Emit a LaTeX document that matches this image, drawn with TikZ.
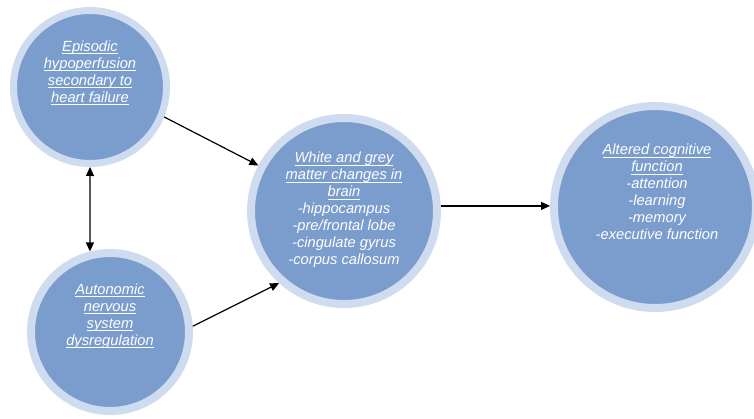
\documentclass[tikz,border=0pt]{standalone}
\usepackage{fontspec}
\setmainfont{Liberation Sans}
\usepackage{tikz}
\usetikzlibrary{arrows.meta}
\usepackage{xcolor}
\definecolor{ringblue}{RGB}{207,220,239}
\definecolor{coreblue}{RGB}{122,157,205}
\newsavebox\ulbox
\newcommand\ulline[1]{\sbox\ulbox{#1}\rlap{\rule[-2.5pt]{\wd\ulbox}{0.7pt}}\usebox\ulbox}

\begin{document}
\begin{tikzpicture}[x=1pt,y=-1pt,>={Triangle[length=9pt,width=8pt]},
  bubble/.style={circle,draw=ringblue,fill=coreblue,inner sep=0pt},
  bubbletext/.style={text=white,align=center,font=\fontsize{14.7}{17}\selectfont\itshape}]
\useasboundingbox (0,0) rectangle (754,419);
\node[bubble,line width=7pt,minimum size=153pt] (epi) at (90,87) {};
\node[bubble,line width=8pt,minimum size=158pt] (ans) at (110,332) {};
\node[bubble,line width=8pt,minimum size=186pt] (wgm) at (344,211) {};
\node[bubble,line width=8pt,minimum size=202pt] (cog) at (655,207) {};
\node[bubbletext] (epi-txt) at (90,73) {\ulline{Episodic}\\ \ulline{hypoperfusion}\\ \ulline{secondary to}\\ \ulline{heart failure}};
\node[bubbletext] (ans-txt) at (110,316) {\ulline{Autonomic}\\ \ulline{nervous}\\ \ulline{system}\\ \ulline{dysregulation}};
\node[bubbletext] (wgm-txt) at (344,210) {\ulline{White and grey}\\ \ulline{matter changes in}\\ \ulline{brain}\\ -hippocampus\\ -pre/frontal lobe\\ -cingulate gyrus\\ -corpus callosum};
\node[bubbletext] (cog-txt) at (657,192) {\ulline{Altered cognitive}\\ \ulline{function}\\ -attention\\ -learning\\ -memory\\ -executive function};
\draw[->,line width=1.2pt] (epi.-22) -- (wgm.152);
\draw[<->,line width=1.2pt] (epi.south) -- (ans.104);
\draw[->,line width=1.2pt] (ans.4) -- (wgm.228);
\draw[->,line width=1.2pt] (wgm.3) -- (wgm.3 -| cog.west);
\end{tikzpicture}
\end{document}
